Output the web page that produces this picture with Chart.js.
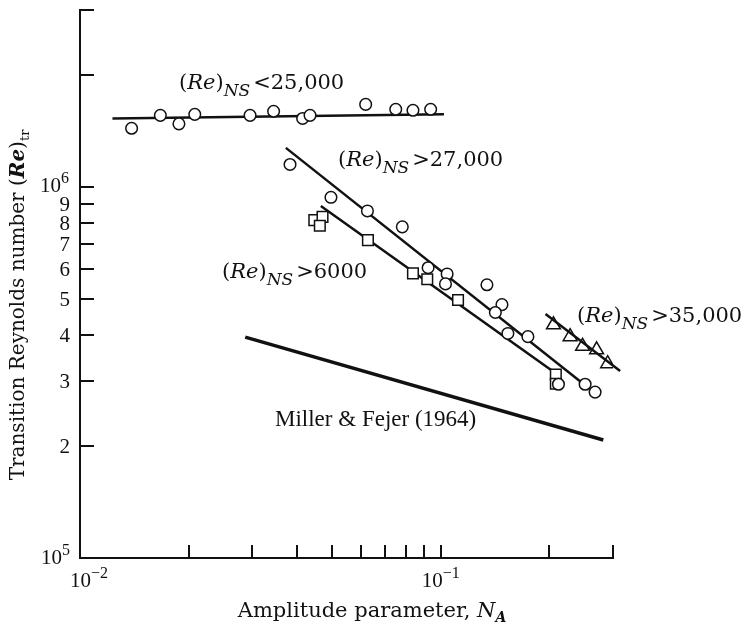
<!DOCTYPE html>
<html>
<head>
<meta charset="utf-8">
<script src="https://cdn.jsdelivr.net/npm/chart.js@4.4.1/dist/chart.umd.min.js"></script>
<style>
  html, body { margin: 0; padding: 0; background: #fff; }
  #wrap { width: 744px; height: 628px; }
</style>
</head>
<body>
<div id="wrap"><canvas id="chart" width="744" height="628"></canvas></div>
<script>
// Measured points: amplitude parameter N_A (x) vs transition Reynolds number (y)
const lowNsX = [0.0139, 0.0167, 0.0188, 0.0208, 0.0296, 0.0344, 0.0414, 0.0434, 0.0619, 0.0750, 0.0837, 0.0937];
const lowNsY = [1.44e6, 1.56e6, 1.48e6, 1.57e6, 1.56e6, 1.60e6, 1.53e6, 1.56e6, 1.67e6, 1.62e6, 1.61e6, 1.62e6];

const midNsX = [0.0382, 0.0496, 0.0626, 0.0782, 0.0922, 0.1041, 0.1030, 0.1342, 0.1477, 0.1416, 0.1534, 0.1743, 0.2118, 0.2511, 0.2676];
const midNsY = [1.15e6, 9.38e5, 8.62e5, 7.81e5, 6.06e5, 5.83e5, 5.48e5, 5.45e5, 4.82e5, 4.59e5, 4.03e5, 3.95e5, 2.94e5, 2.94e5, 2.80e5];

const smallNsX = [0.0446, 0.0470, 0.0462, 0.0628, 0.0837, 0.0917, 0.1116, 0.2083, 0.2083];
const smallNsY = [8.14e5, 8.31e5, 7.86e5, 7.19e5, 5.85e5, 5.64e5, 4.96e5, 3.12e5, 2.95e5];

const highNsX = [0.2052, 0.2282, 0.2471, 0.2702, 0.2899];
const highNsY = [4.25e5, 3.95e5, 3.72e5, 3.64e5, 3.34e5];

// Fitted lines (end points)
const lowFitX = [0.0123, 0.102];
const lowFitY = [1.53e6, 1.57e6];
const midFitX = [0.0372, 0.248];
const midFitY = [1.275e6, 2.95e5];
const smallFitX = [0.0465, 0.203];
const smallFitY = [8.89e5, 3.20e5];
const highFitX = [0.195, 0.314];
const highFitY = [4.55e5, 3.19e5];
const millerX = [0.0287, 0.282];
const millerY = [3.94e5, 2.08e5];

// Axis ticks
const xTicks = [0.02, 0.03, 0.04, 0.05, 0.06, 0.07, 0.08, 0.09, 0.1, 0.2, 0.3];
const yTicks = [2e5, 3e5, 4e5, 5e5, 6e5, 7e5, 8e5, 9e5, 1e6, 2e6, 3e6];
const yDigitTicks = [2e5, 3e5, 4e5, 5e5, 6e5, 7e5, 8e5, 9e5];
const yDigitLabels = ['2', '3', '4', '5', '6', '7', '8', '9'];

const SERIF = '"Liberation Serif", "Times New Roman", serif';
const WIDE = '"DejaVu Serif", serif';
const INK = '#111';

function pts(xs, ys) {
    return xs.map((v, i) => ({ x: v, y: ys[i] }));
}

// draws a run of text pieces with their own fonts / vertical offsets
function drawRich(ctx, parts, x, y, align) {
    let w = 0;
    parts.forEach(p => {
        ctx.font = p.font;
        p.w = ctx.measureText(p.t).width + (p.gap || 0);
        w += p.w;
    });
    let cx = align === 'right' ? x - w : align === 'center' ? x - w / 2 : x;
    parts.forEach(p => {
        ctx.font = p.font;
        ctx.fillText(p.t, cx, y + (p.dy || 0));
        cx += p.w;
    });
}

function reLabel(rest) {
    return [
        { t: '(', font: '21px ' + WIDE },
        { t: 'Re', font: 'italic 21px ' + WIDE },
        { t: ')', font: '21px ' + WIDE },
        { t: 'NS', font: 'italic 17px ' + WIDE, dy: 7, gap: 3 },
        { t: rest, font: '21px ' + WIDE }
    ];
}

const inkPlugin = {
    id: 'ink',
    afterDraw(chart) {
        const { ctx, chartArea: a, scales: { x, y } } = chart;
        ctx.save();
        ctx.strokeStyle = INK;
        ctx.fillStyle = INK;
        ctx.lineWidth = 2;

        // inward tick marks
        yTicks.forEach(v => {
            const py = Math.round(y.getPixelForValue(v));
            ctx.beginPath();
            ctx.moveTo(a.left, py);
            ctx.lineTo(a.left + 14, py);
            ctx.stroke();
        });
        xTicks.forEach(v => {
            const px = Math.round(x.getPixelForValue(v));
            ctx.beginPath();
            ctx.moveTo(px, a.bottom);
            ctx.lineTo(px, a.bottom - 13);
            ctx.stroke();
        });

        ctx.textBaseline = 'alphabetic';
        const tickFont = '21px ' + SERIF;
        const supFont = '16px ' + SERIF;

        // y tick labels
        yDigitTicks.forEach((v, i) => {
            drawRich(ctx, [{ t: yDigitLabels[i], font: tickFont }], a.left - 10, y.getPixelForValue(v) + 7, 'right');
        });
        drawRich(ctx, [{ t: '10', font: tickFont }, { t: '6', font: supFont, dy: -9 }], a.left - 11, y.getPixelForValue(1e6) + 5, 'right');
        drawRich(ctx, [{ t: '10', font: tickFont }, { t: '5', font: supFont, dy: -9 }], a.left - 10, y.getPixelForValue(1e5) + 6, 'right');

        // x tick labels
        drawRich(ctx, [{ t: '10', font: tickFont }, { t: '\u22122', font: supFont, dy: -9 }], x.getPixelForValue(0.01) - 10, a.bottom + 29, 'left');
        drawRich(ctx, [{ t: '10', font: tickFont }, { t: '\u22121', font: supFont, dy: -9 }], x.getPixelForValue(0.1) - 19, a.bottom + 29, 'left');

        // axis titles
        drawRich(ctx, [
            { t: 'Amplitude parameter, ', font: '21px ' + WIDE },
            { t: 'N', font: 'italic 21px ' + WIDE },
            { t: 'A', font: 'italic bold 14px ' + WIDE, dy: 5 }
        ], 372, 617, 'center');

        ctx.save();
        ctx.translate(24, 305);
        ctx.rotate(-Math.PI / 2);
        drawRich(ctx, [
            { t: 'Transition Reynolds number (', font: '20px ' + WIDE },
            { t: 'Re', font: 'italic bold 20px ' + WIDE },
            { t: ')', font: '20px ' + WIDE },
            { t: 'tr', font: '13px ' + WIDE, dy: 5 }
        ], 0, 0, 'center');
        ctx.restore();

        // curve annotations
        drawRich(ctx, reLabel('<25,000'), 179, 89, 'left');
        drawRich(ctx, reLabel('>27,000'), 338, 166, 'left');
        drawRich(ctx, reLabel('>6000'), 222, 278, 'left');
        drawRich(ctx, reLabel('>35,000'), 577, 322, 'left');
        drawRich(ctx, [{ t: 'Miller & Fejer (1964)', font: '23px ' + SERIF }], 275, 426, 'left');

        ctx.restore();
    }
};

const marker = { borderColor: INK, borderWidth: 1.5, backgroundColor: '#fff', showLine: false };
const fitLine = { borderColor: INK, borderWidth: 2.5, pointRadius: 0, showLine: true, fill: false };

new Chart(document.getElementById('chart'), {
    type: 'scatter',
    data: {
        datasets: [
            { ...marker, label: '(Re)NS<25,000', data: pts(lowNsX, lowNsY), pointStyle: 'circle', pointRadius: 5.8 },
            { ...marker, label: '(Re)NS>27,000', data: pts(midNsX, midNsY), pointStyle: 'circle', pointRadius: 5.8 },
            { ...marker, label: '(Re)NS>6000', data: pts(smallNsX, smallNsY), pointStyle: 'rect', pointRadius: 7.5 },
            { ...marker, label: '(Re)NS>35,000', data: pts(highNsX, highNsY), pointStyle: 'triangle', pointRadius: 8, backgroundColor: 'rgba(0,0,0,0)' },
            { ...fitLine, label: 'fit <25,000', data: pts(lowFitX, lowFitY) },
            { ...fitLine, label: 'fit >27,000', data: pts(midFitX, midFitY) },
            { ...fitLine, label: 'fit >6000', data: pts(smallFitX, smallFitY) },
            { ...fitLine, label: 'fit >35,000', data: pts(highFitX, highFitY), clip: false },
            { ...fitLine, label: 'Miller & Fejer (1964)', data: pts(millerX, millerY), borderWidth: 3.5 }
        ]
    },
    options: {
        responsive: false,
        animation: false,
        devicePixelRatio: 1,
        layout: { padding: { left: 80, right: 131, top: 10, bottom: 70 } },
        plugins: {
            legend: { display: false },
            tooltip: { enabled: false }
        },
        scales: {
            x: {
                type: 'logarithmic',
                min: 0.01,
                max: 0.3,
                ticks: { display: false },
                grid: { display: false, drawTicks: false },
                border: { color: INK, width: 2 }
            },
            y: {
                type: 'logarithmic',
                min: 1e5,
                max: 3e6,
                ticks: { display: false },
                grid: { display: false, drawTicks: false },
                border: { color: INK, width: 2 }
            }
        }
    },
    plugins: [inkPlugin]
});
</script>
</body>
</html>
